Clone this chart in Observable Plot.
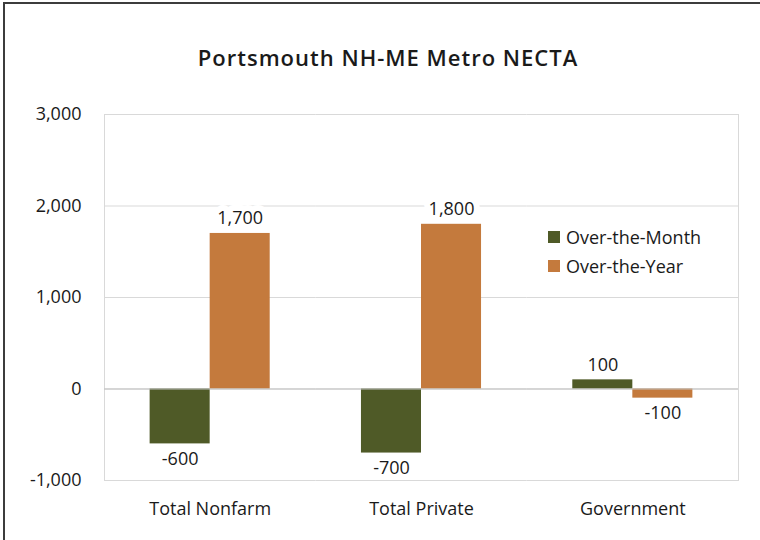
<!DOCTYPE html>
<html>
<head>
<meta charset="utf-8">
<script src="https://cdn.jsdelivr.net/npm/d3@7"></script>
<script src="https://cdn.jsdelivr.net/npm/@observablehq/plot@0.6"></script>
<style>
  body { margin: 0; background: #fff; }
  #wrap { position: relative; width: 760px; height: 540px; overflow: hidden; font-family: "Open Sans", sans-serif; }
  #edge { position: absolute; left: 3px; top: 2px; width: 900px; height: 900px; border-left: 2px solid #3c3c3c; border-top: 2px solid #3c3c3c; }
  #title { position: relative; box-sizing: border-box; width: 760px; height: 90px; padding-left: 16px; padding-top: 43px; text-align: center; font-size: 22px; letter-spacing: 1px; font-weight: 600; line-height: 28px; color: #1a1a1a; }
  #legend { position: absolute; left: 548px; top: 222px; font-size: 18px; color: #1a1a1a; }
  #legend .row { display: flex; align-items: center; height: 29px; }
  #legend .sw { width: 12px; height: 12px; margin-right: 6px; }
  #chart svg { display: block; }
</style>
</head>
<body>
<div id="wrap">
  <div id="edge"></div>
  <div id="title">Portsmouth NH-ME Metro NECTA</div>
  <div id="chart"></div>
  <div id="legend"></div>
</div>
<script>
const categories = ["Total Nonfarm", "Total Private", "Government"];
const series = ["Over-the-Month", "Over-the-Year"];
const overTheMonth = [-600, -700, 100];
const overTheYear = [1700, 1800, -100];
const yTicks = [-1000, 0, 1000, 2000, 3000];
const colors = ["#4F5A27", "#C47A3D"];

const data = categories.flatMap((c, i) => [
  {category: c, series: series[0], value: overTheMonth[i]},
  {category: c, series: series[1], value: overTheYear[i]}
]);
const fmt = d3.formatLocale({decimal: ".", thousands: ",", grouping: [3], currency: ["$", ""], minus: "-"}).format(",");

const chart = Plot.plot({
  width: 760,
  height: 450,
  marginLeft: 104,
  marginRight: 22,
  marginTop: 24,
  marginBottom: 60,
  style: {fontFamily: "Open Sans, sans-serif", fontSize: "18px", color: "#1a1a1a", background: "transparent", overflow: "visible"},
  fx: {domain: categories, padding: 0, round: false, label: null, axis: "bottom", tickSize: 0, tickPadding: 22},
  x: {domain: series, paddingInner: 0, paddingOuter: 0.76, round: false, axis: null},
  y: {domain: [-1000, 3000], ticks: yTicks, tickFormat: fmt, label: null, tickSize: 0, tickPadding: 23},
  color: {domain: series, range: colors},
  marks: [
    Plot.gridY(yTicks, {stroke: "#d9d9d9", strokeOpacity: 1}),
    Plot.frame({anchor: "left", facetAnchor: "left", stroke: "#d9d9d9", strokeOpacity: 1}),
    Plot.frame({anchor: "right", facetAnchor: "right", stroke: "#d9d9d9", strokeOpacity: 1}),
    Plot.text(data.filter(d => d.value >= 0), {fx: "category", x: "series", y: "value", text: d => fmt(d.value), lineAnchor: "bottom", dy: -9, fill: "#1a1a1a", stroke: "white", strokeWidth: 12}),
    Plot.text(data.filter(d => d.value < 0), {fx: "category", x: "series", y: "value", text: d => fmt(d.value), lineAnchor: "top", dy: 8, fill: "#1a1a1a", stroke: "white", strokeWidth: 12}),
    Plot.barY(data, {fx: "category", x: "series", y: "value", fill: "series"}),
    Plot.ruleY([0], {stroke: "#bfbfbf"})
  ]
});
document.getElementById("chart").appendChild(chart);

const legend = document.getElementById("legend");
series.forEach((s, i) => {
  const row = document.createElement("div");
  row.className = "row";
  const sw = document.createElement("div");
  sw.className = "sw";
  sw.style.background = colors[i];
  const label = document.createElement("span");
  label.textContent = s;
  row.appendChild(sw);
  row.appendChild(label);
  legend.appendChild(row);
});
</script>
</body>
</html>
